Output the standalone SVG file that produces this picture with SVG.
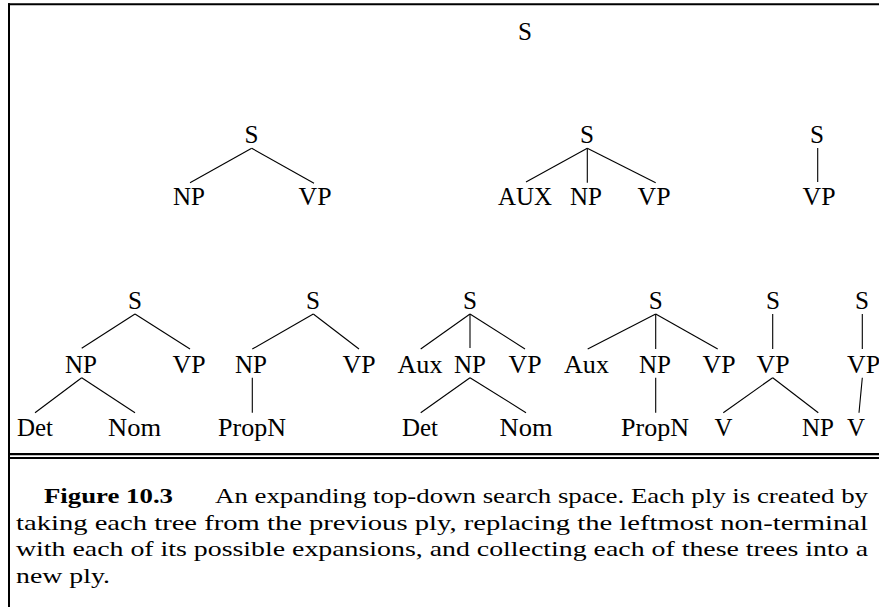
<svg xmlns="http://www.w3.org/2000/svg" width="879" height="607" viewBox="0 0 879 607">
<style>
.lbl{font-family:"Liberation Serif","Times New Roman",Times,serif;font-size:24.5px;fill:#000;text-anchor:middle}
.cap{font-family:"Liberation Serif","Times New Roman",Times,serif;font-size:21px;fill:#000}
.b{font-weight:bold}
.edge{stroke:#000;stroke-width:1.1;fill:none}
.rule{stroke:#000;fill:none}
</style>
<rect width="879" height="607" fill="#fff"/>
<g id="frame">
<line class="rule" x1="8" y1="4.3" x2="879" y2="4.3" stroke-width="2"/>
<line class="rule" x1="9" y1="3.3" x2="9" y2="607" stroke-width="2"/>
<line class="rule" x1="8" y1="454.2" x2="879" y2="454.2" stroke-width="2.3"/>
<line class="rule" x1="8" y1="458" x2="879" y2="458" stroke-width="2"/>
</g>
<g id="connectors" class="edge">
<line x1="251.7" y1="148.3" x2="190" y2="182.7"/>
<line x1="251.7" y1="148.3" x2="314" y2="183.3"/>
<line x1="587.3" y1="148.3" x2="526" y2="182"/>
<line x1="587.3" y1="148.3" x2="587.3" y2="182.7"/>
<line x1="587.3" y1="148.3" x2="655.7" y2="182.7"/>
<line x1="817.7" y1="148" x2="817.7" y2="182"/>
<line x1="135" y1="314" x2="81.7" y2="348.3"/>
<line x1="135" y1="314" x2="190" y2="349"/>
<line x1="81.7" y1="377.7" x2="35" y2="412.7"/>
<line x1="81.7" y1="377.7" x2="135" y2="412.7"/>
<line x1="313.3" y1="314" x2="252.3" y2="349"/>
<line x1="313.3" y1="314" x2="359" y2="349"/>
<line x1="252.3" y1="377.7" x2="252.3" y2="412.7"/>
<line x1="470" y1="314" x2="420.7" y2="349"/>
<line x1="470" y1="314" x2="470" y2="348"/>
<line x1="470" y1="314" x2="525" y2="349"/>
<line x1="470" y1="377.7" x2="420.7" y2="412.7"/>
<line x1="470" y1="377.7" x2="526" y2="412.7"/>
<line x1="655.7" y1="314" x2="587.7" y2="349"/>
<line x1="655.7" y1="314" x2="655.7" y2="349"/>
<line x1="655.7" y1="314" x2="717.7" y2="349"/>
<line x1="655.7" y1="377.7" x2="655.7" y2="412.7"/>
<line x1="772.7" y1="314" x2="772.7" y2="349"/>
<line x1="772.7" y1="377.7" x2="723.3" y2="412.7"/>
<line x1="772.7" y1="377.7" x2="818.3" y2="412.7"/>
<line x1="862.3" y1="314" x2="862.3" y2="349"/>
<line x1="862.3" y1="377.7" x2="859" y2="412.7"/>
</g>
<g id="n-root"><text class="lbl" x="525" y="40" textLength="14" lengthAdjust="spacingAndGlyphs">S</text></g>
<g id="t1">
<text class="lbl" x="251.5" y="143" textLength="14" lengthAdjust="spacingAndGlyphs">S</text>
<text class="lbl" x="189" y="205" textLength="32" lengthAdjust="spacingAndGlyphs">NP</text>
<text class="lbl" x="315" y="205" textLength="33" lengthAdjust="spacingAndGlyphs">VP</text>
</g>
<g id="t2">
<text class="lbl" x="587" y="143" textLength="14" lengthAdjust="spacingAndGlyphs">S</text>
<text class="lbl" x="525" y="205" textLength="54" lengthAdjust="spacingAndGlyphs">AUX</text>
<text class="lbl" x="586" y="205" textLength="32" lengthAdjust="spacingAndGlyphs">NP</text>
<text class="lbl" x="654" y="205" textLength="33" lengthAdjust="spacingAndGlyphs">VP</text>
</g>
<g id="t3">
<text class="lbl" x="817" y="143" textLength="14" lengthAdjust="spacingAndGlyphs">S</text>
<text class="lbl" x="819" y="205" textLength="33" lengthAdjust="spacingAndGlyphs">VP</text>
</g>
<g id="tA">
<text class="lbl" x="135" y="309" textLength="14" lengthAdjust="spacingAndGlyphs">S</text>
<text class="lbl" x="81" y="373" textLength="32" lengthAdjust="spacingAndGlyphs">NP</text>
<text class="lbl" x="189" y="373" textLength="33" lengthAdjust="spacingAndGlyphs">VP</text>
<text class="lbl" x="35" y="436" textLength="36" lengthAdjust="spacingAndGlyphs">Det</text>
<text class="lbl" x="134.5" y="436" textLength="53" lengthAdjust="spacingAndGlyphs">Nom</text>
</g>
<g id="tB">
<text class="lbl" x="313" y="309" textLength="14" lengthAdjust="spacingAndGlyphs">S</text>
<text class="lbl" x="251" y="373" textLength="32" lengthAdjust="spacingAndGlyphs">NP</text>
<text class="lbl" x="359" y="373" textLength="33" lengthAdjust="spacingAndGlyphs">VP</text>
<text class="lbl" x="252" y="436" textLength="68" lengthAdjust="spacingAndGlyphs">PropN</text>
</g>
<g id="tC">
<text class="lbl" x="470" y="309" textLength="14" lengthAdjust="spacingAndGlyphs">S</text>
<text class="lbl" x="420" y="373" textLength="45" lengthAdjust="spacingAndGlyphs">Aux</text>
<text class="lbl" x="470" y="373" textLength="32" lengthAdjust="spacingAndGlyphs">NP</text>
<text class="lbl" x="525" y="373" textLength="33" lengthAdjust="spacingAndGlyphs">VP</text>
<text class="lbl" x="420" y="436" textLength="36" lengthAdjust="spacingAndGlyphs">Det</text>
<text class="lbl" x="526" y="436" textLength="53" lengthAdjust="spacingAndGlyphs">Nom</text>
</g>
<g id="tD">
<text class="lbl" x="655.7" y="309" textLength="14" lengthAdjust="spacingAndGlyphs">S</text>
<text class="lbl" x="586.5" y="373" textLength="45" lengthAdjust="spacingAndGlyphs">Aux</text>
<text class="lbl" x="655" y="373" textLength="32" lengthAdjust="spacingAndGlyphs">NP</text>
<text class="lbl" x="719" y="373" textLength="33" lengthAdjust="spacingAndGlyphs">VP</text>
<text class="lbl" x="655" y="436" textLength="68" lengthAdjust="spacingAndGlyphs">PropN</text>
</g>
<g id="tE">
<text class="lbl" x="773" y="309" textLength="14" lengthAdjust="spacingAndGlyphs">S</text>
<text class="lbl" x="773" y="373" textLength="33" lengthAdjust="spacingAndGlyphs">VP</text>
<text class="lbl" x="723.5" y="436" textLength="18" lengthAdjust="spacingAndGlyphs">V</text>
<text class="lbl" x="818" y="436" textLength="32" lengthAdjust="spacingAndGlyphs">NP</text>
</g>
<g id="tF">
<text class="lbl" x="862" y="309" textLength="14" lengthAdjust="spacingAndGlyphs">S</text>
<text class="lbl" x="863.5" y="373" textLength="33" lengthAdjust="spacingAndGlyphs">VP</text>
<text class="lbl" x="856" y="436" textLength="18" lengthAdjust="spacingAndGlyphs">V</text>
</g>
<g id="caption">
<text class="cap b" x="44" y="502.7" textLength="129" lengthAdjust="spacingAndGlyphs">Figure 10.3</text>
<text class="cap" x="215" y="502.7" textLength="653" lengthAdjust="spacingAndGlyphs">An expanding top-down search space. Each ply is created by</text>
<text class="cap" x="16" y="529.5" textLength="852" lengthAdjust="spacingAndGlyphs">taking each tree from the previous ply, replacing the leftmost non-terminal</text>
<text class="cap" x="16" y="556.3" textLength="852" lengthAdjust="spacingAndGlyphs">with each of its possible expansions, and collecting each of these trees into a</text>
<text class="cap" x="16" y="583" textLength="94" lengthAdjust="spacingAndGlyphs">new ply.</text>
</g>
</svg>
